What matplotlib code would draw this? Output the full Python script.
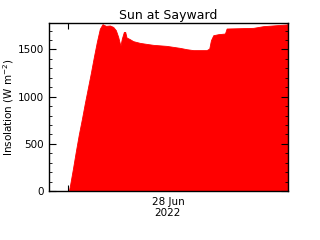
import numpy as np
import matplotlib
matplotlib.use("Agg")
import matplotlib.pyplot as plt
from matplotlib.ticker import MultipleLocator, FixedLocator

# hours since 28 Jun 2022 00:00
hours = [-2.3, 0.12, 0.24, 0.6, 0.96, 1.32, 1.68, 2.04, 2.4, 2.76, 3.12, 3.48, 3.84,
         4.16, 4.56, 5.04, 5.44, 5.76, 6.04, 6.24, 6.32, 6.48, 6.72, 6.88, 7.04,
         7.44, 7.84, 8.64, 9.44, 10.24, 11.84, 13.44, 14.24, 15.04, 16.64, 16.96,
         17.16, 17.44, 18.04, 18.84, 19.04, 22.24, 23.44, 26.24, 26.4]
insolation = [0, 0, 50, 230, 420, 600, 760, 930, 1090, 1250, 1420, 1580, 1720,
              1768, 1750, 1754, 1739, 1704, 1633, 1563, 1545, 1616, 1686, 1686, 1627,
              1609, 1588, 1570, 1559, 1549, 1538, 1517, 1503, 1493, 1493, 1510,
              1598, 1651, 1662, 1669, 1722, 1729, 1747, 1765, 1772]
day_label = "28 Jun\n2022"

fig = plt.figure(figsize=(3.2, 2.4), dpi=100)
ax = fig.add_axes([0.152, 0.204, 0.748, 0.700])
ax.fill_between(hours, insolation, 0, color="#ff0000", linewidth=0.6, edgecolor="#ff0000")

ax.set_xlim(-2.3, 26.4)
ax.set_ylim(0, 1780)
ax.xaxis.set_major_locator(FixedLocator([0]))
ax.xaxis.set_minor_locator(FixedLocator([12]))
ax.set_xticklabels([""])
ax.set_xticklabels([day_label], minor=True)
ax.tick_params(axis="x", which="minor", length=0, labelsize=7.5, pad=4)
ax.tick_params(axis="x", which="major", direction="in", length=4, top=True)
ax.yaxis.set_major_locator(MultipleLocator(500))
ax.yaxis.set_minor_locator(MultipleLocator(100))
ax.tick_params(axis="y", which="both", direction="in", right=True, labelsize=7.5)
ax.tick_params(axis="y", which="major", length=5)
ax.tick_params(axis="y", which="minor", length=2.5)
for s in ax.spines.values():
    s.set_linewidth(1)
    s.set_zorder(3)

ax.set_ylabel("Insolation (W m$^{-2}$)", fontsize=7.5, labelpad=1)
ax.set_title("Sun at Sayward", fontsize=9, pad=3)

fig.savefig("out.png", dpi=100)
